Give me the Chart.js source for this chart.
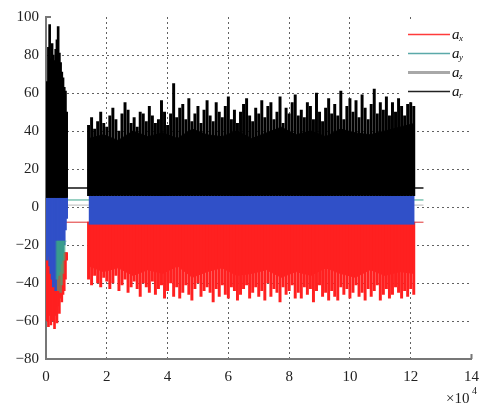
<!DOCTYPE html>
<html lang="en">
  <head>
    <meta charset="UTF-8" />
    <title>Acceleration signal</title>
    <script src="https://cdn.jsdelivr.net/npm/chart.js"></script>
    <style>
      html, body { margin: 0; padding: 0; background: #fff; }
      #box { width: 488px; height: 406px; }
    </style>
  </head>
  <body>
    <div id="box"><canvas id="myCanvas" width="488" height="406"></canvas></div>
    <script>
      // tick labels
      const xTickValues = [0, 2, 4, 6, 8, 10, 12, 14];
      const yTickValues = [-80, -60, -40, -20, 0, 20, 40, 60, 80, 100];
      const xUnit = "×10";
      const xUnitExp = "4";

      // series (legend)
      const seriesSubs = ["x", "y", "z", "r"];
      const seriesColors = ["#ff3b3b", "#5aa9a9", "#a8a8a8", "#222222"];

      // first burst: x from 0, step 0.04 (x10^4)
      const burstStart = 0;
      const burstStep = 0.04;
      const arBurst = [52, 66, 84, 96, 78, 86, 80, 77, 83, 88, 95, 81, 76, 71, 68, 63, 61, 50];
      const ayBurst = [-24, -28, -26, -31, -35, -38, -42, -40, -44, -38, -36, -34, -30, -28, -24, -20, -12, -6];
      const axBurst = [-48, -60, -63, -57, -62, -55, -60, -64, -57, -61, -52, -56, -48, -50, -46, -44, -38, -28];
      const azBurstStart = 0.36;
      const azBurst = [-38, -44, -36, -45, -41, -35, -28, -18];

      // main run: x from 1.4, step 0.1 (x10^4)
      const runStart = 1.4;
      const runStep = 0.1;
      const runEnd = 12.13;
      const arRunPeaks = [
        43, 47, 41, 45, 50, 44, 42, 48, 52, 46,
        40, 49, 55, 51, 44, 47, 42, 50, 49, 45,
        53, 48, 44, 46, 56, 50, 43, 49, 65, 47,
        52, 54, 46, 57, 45, 49, 53, 44, 51, 56,
        48, 45, 55, 50, 47, 53, 58, 46, 51, 44,
        50, 54, 57, 48, 45, 52, 49, 56, 47, 53,
        55, 46, 50, 58, 44, 52, 49, 55, 59, 48,
        51, 47, 55, 53, 46, 60, 50, 45, 52, 57,
        49, 54, 48, 61, 46, 53, 57, 50, 56, 47,
        59, 52, 46, 54, 62, 49, 55, 51, 58, 48,
        55, 50, 57, 53, 48, 54, 55, 53
      ];
      const axRunPeaks = [
        -38, -41, -36, -40, -42, -37, -39, -43, -40, -36,
        -44, -41, -38, -45, -42, -39, -43, -47, -40, -42,
        -45, -39, -46, -43, -41, -48, -44, -40, -47, -42,
        -48, -45, -41, -46, -49, -43, -40, -47, -44, -42,
        -45, -50, -43, -47, -41, -46, -48, -42, -44, -49,
        -46, -43, -41, -48, -45, -42, -47, -44, -49, -40,
        -47, -43, -45, -50, -42, -46, -44, -41, -48, -45,
        -48, -42, -46, -43, -50, -44, -41, -47, -45, -49,
        -44, -47, -49, -42, -46, -43, -48, -45, -41, -47,
        -45, -49, -43, -47, -44, -41, -49, -46, -43, -48,
        -46, -42, -45, -48, -44, -47, -43, -46
      ];
      // solid core of the run, sampled evenly from runStart to runEnd
      const arRunBody = [36, 38, 35, 40, 37, 39, 36, 41, 38, 37, 40, 36, 39, 42, 38, 40, 37, 41, 39, 38, 40, 42, 44];
      const axRunBody = [-31, -34, -32, -36, -33, -35, -31, -37, -34, -32, -36, -35, -33, -37, -34, -36, -32, -35, -37, -33, -36, -34, -35];
      const ayRunTop = 6;
      const ayRunBottom = -9;

      // idle levels between bursts
      const idleFrom = 0.6;
      const idleTo = 12.42;
      const idleLevels = [-8, 3.7, 1, 10]; // ax, ay, az, ar

      function toPoints(start, step, values) {
        return values.map(function (v, i) {
          return { x: +(start + i * step).toFixed(3), y: v };
        });
      }

      function toBars(start, step, values, base) {
        return values.map(function (v, i) {
          return { x: +(start + i * step).toFixed(3), y: [base, v] };
        });
      }

      function band(label, color, points, base, order) {
        return {
          type: "line",
          label: label,
          data: points,
          borderColor: color,
          backgroundColor: color,
          borderWidth: 1,
          pointRadius: 0,
          tension: 0,
          fill: { value: base },
          order: order,
        };
      }

      function spikes(label, color, points, width, order) {
        return {
          type: "bar",
          label: label,
          data: points,
          backgroundColor: color,
          borderWidth: 0,
          barThickness: width,
          grouped: false,
          order: order,
        };
      }

      const datasets = [];
      const idleColors = ["#e03030", "#3aa58a", "#bbbbbb", "#111111"];
      for (let i = 0; i < idleLevels.length; i++) {
        datasets.push({
          type: "line",
          label: "idle " + seriesSubs[i],
          data: [{ x: idleFrom, y: idleLevels[i] }, { x: idleTo, y: idleLevels[i] }],
          borderColor: idleColors[i],
          borderWidth: i == 3 ? 1.5 : 1,
          pointRadius: 0,
          fill: false,
          order: 20,
        });
      }
      const bodyStep = (runEnd - runStart) / (arRunBody.length - 1);

      datasets.push(spikes("ax1", "#ff2020", toBars(burstStart, burstStep, axBurst, -24), 2, 10));
      datasets.push(spikes("ax2", "#ff2020", toBars(runStart, runStep, axRunPeaks, -8), 2.3, 10));
      datasets.push(band("ax2 body", "#ff2020", toPoints(runStart, bodyStep, axRunBody), -8, 10));
      datasets.push(spikes("ay1", "#3050c8", toBars(burstStart, burstStep, ayBurst, 6), 2, 8));
      datasets.push(band("ay2", "#3050c8", [{ x: runStart, y: ayRunBottom }, { x: runEnd, y: ayRunBottom }], ayRunTop, 8));
      datasets.push(spikes("az1", "rgba(60,175,125,0.55)", toBars(azBurstStart, burstStep, azBurst, -18), 2, 7));
      datasets.push(spikes("ar1", "#000000", toBars(burstStart, burstStep, arBurst, 5), 2, 6));
      datasets.push(spikes("ar2", "#000000", toBars(runStart, runStep, arRunPeaks, 6), 2.3, 6));
      datasets.push(band("ar2 body", "#000000", toPoints(runStart, bodyStep, arRunBody), 6, 6));

      function fmt(v) {
        return v < 0 ? "\u2212" + Math.abs(v) : String(v);
      }

      function gridColor(ctx, values) {
        const v = ctx.tick.value;
        if (v === values[0] || v === values[values.length - 1]) return "rgba(0,0,0,0)";
        return "rgba(70,70,70,0.85)";
      }

      const serif = "'Liberation Serif', 'DejaVu Serif', 'Noto Serif', serif";

      const extras = {
        id: "extras",
        afterDraw(chart) {
          const ctx = chart.ctx;
          const a = chart.chartArea;
          ctx.save();
          ctx.strokeStyle = "#777";
          ctx.lineWidth = 2;
          ctx.beginPath();
          ctx.moveTo(a.left, a.top);
          ctx.lineTo(a.left + 5, a.top);
          ctx.moveTo(a.right, a.bottom);
          ctx.lineTo(a.right, a.bottom - 5);
          ctx.stroke();

          // legend
          ctx.fillStyle = "#fff";
          ctx.fillRect(401, 22, 77, 80);
          for (let i = 0; i < seriesSubs.length; i++) {
            const y = 34.5 + i * 19;
            ctx.strokeStyle = seriesColors[i];
            ctx.lineWidth = i == 2 ? 3 : 1.3;
            ctx.beginPath();
            ctx.moveTo(408, y);
            ctx.lineTo(450, y);
            ctx.stroke();
            ctx.fillStyle = "#111";
            ctx.textBaseline = "alphabetic";
            ctx.font = "italic 15px " + serif;
            ctx.fillText("a", 452, y + 4);
            ctx.font = "italic 9px " + serif;
            ctx.fillText(seriesSubs[i], 459, y + 6);
          }

          // x unit
          ctx.fillStyle = "#222";
          ctx.font = "15px " + serif;
          ctx.fillText(xUnit, 446, 403);
          ctx.font = "10px " + serif;
          ctx.fillText(xUnitExp, 472, 394);
          ctx.restore();
        },
      };

      Chart.defaults.font.family = serif;

      const config = {
        type: "line",
        data: { datasets: datasets },
        options: {
          responsive: false,
          animation: false,
          layout: { padding: { top: 17, right: 8, left: 0, bottom: 0 } },
          plugins: { legend: { display: false }, tooltip: { enabled: false } },
          scales: {
            x: {
              type: "linear",
              min: 0,
              max: 14,
              offset: false,
              afterBuildTicks: function (s) {
                s.ticks = xTickValues.map(function (v) { return { value: v }; });
              },
              afterFit: function (s) { s.height = 47; },
              grid: {
                offset: false,
                drawTicks: false,
                color: function (c) { return gridColor(c, xTickValues); },
              },
              border: { display: true, color: "#777", width: 2, dash: [2, 3] },
              ticks: {
                padding: 9,
                color: "#222",
                font: { family: serif, size: 15 },
                callback: fmt,
              },
            },
            y: {
              type: "linear",
              min: -80,
              max: 100,
              afterBuildTicks: function (s) {
                s.ticks = yTickValues.map(function (v) { return { value: v }; });
              },
              afterFit: function (s) { s.width = 46; },
              grid: {
                drawTicks: false,
                color: function (c) { return gridColor(c, yTickValues); },
              },
              border: { display: true, color: "#777", width: 2, dash: [2, 3] },
              ticks: {
                padding: 7,
                color: "#222",
                font: { family: serif, size: 15 },
                callback: fmt,
              },
            },
          },
        },
        plugins: [extras],
      };

      let myChart;
      function desenhar() {
        if (!myChart) myChart = new Chart(document.getElementById("myCanvas"), config);
      }
      Promise.all([
        document.fonts.load("15px 'Liberation Serif'"),
        document.fonts.load("italic 15px 'Liberation Serif'"),
      ]).then(desenhar, desenhar);
    </script>
  </body>
</html>
